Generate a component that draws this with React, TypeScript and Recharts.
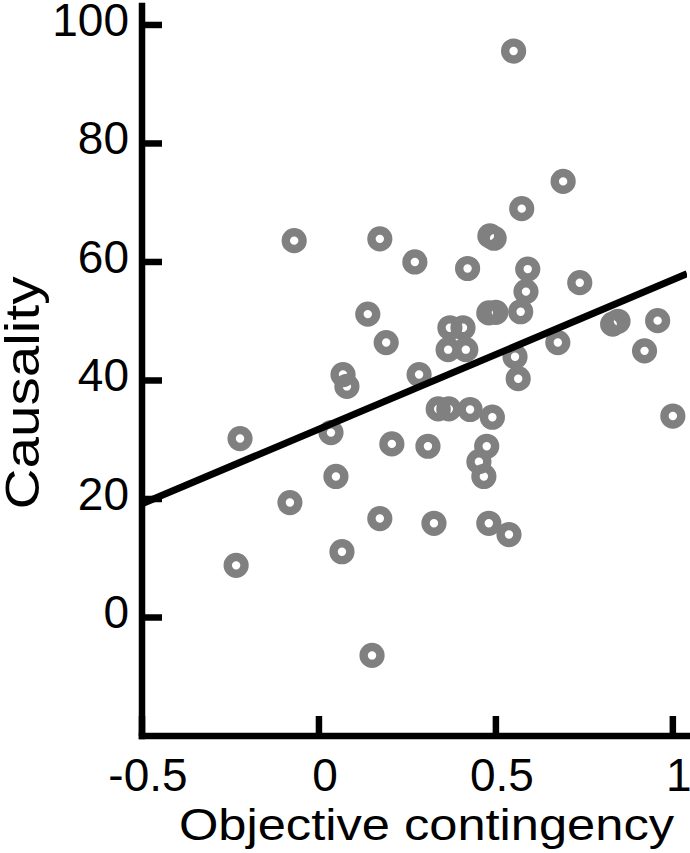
import { ScatterChart, Scatter, XAxis, YAxis } from 'recharts';

const FONT = '"Liberation Sans", Arial, Helvetica, sans-serif';
const GREY = '#808080';

// objective contingency (x) per participant
const contingency = [
  0.55, 0.69, 0.573, -0.07, 0.172, 0.483, 0.495, 0.271, 0.42, 0.59,
  0.585, 0.737, 0.138, 0.48, 0.5, 0.57, 0.83, 0.845, 0.957, 0.92,
  0.37, 0.407, 0.365, 0.415, 0.675, 0.19, 0.554, 0.563, 0.283, 0.068,
  0.079, -0.223, 0.034, 0.206, 0.048, -0.082, 0.172, 0.065, -0.234, 0.15,
  0.337, 0.367, 0.427, 0.49, 1.0, 0.308, 0.474, 0.452, 0.466, 0.325,
  0.48, 0.537,
];

// causality judgement (y), same order
const causality = [
  95.6, 73.6, 69.0, 63.6, 63.9, 64.4, 64.0, 60.0, 58.9, 58.8,
  55.0, 56.5, 51.2, 51.4, 51.5, 51.6, 49.5, 50.0, 50.1, 45.0,
  48.9, 48.9, 45.2, 45.2, 46.4, 46.4, 44.0, 40.3, 41.0, 41.0,
  39.0, 30.2, 31.2, 29.3, 23.8, 19.4, 16.7, 11.1, 8.8, -6.4,
  35.2, 35.2, 35.1, 33.8, 34.0, 28.9, 28.9, 26.3, 23.8, 15.9,
  15.9, 14.0,
];

// regression line end points
const fitX = [-0.5, 1.04];
const fitY = [19.2, 58.0];

const xTicks = [-0.5, 0, 0.5, 1];
const yTicks = [0, 20, 40, 60, 80, 100];

const points = contingency.map((x, i) => ({ x, y: causality[i] }));
const fitLine = fitX.map((x, i) => ({ x, y: fitY[i] }));

const Ring = (p: any) => (
  <circle cx={p.cx} cy={p.cy} r={8.4} fill="none" stroke={GREY} strokeWidth={8.4} />
);

const YTick = ({ x, y, payload }: any) => (
  <g>
    <line x1={x} x2={x + 20} y1={y} y2={y} stroke="#000" strokeWidth={6.5} />
    <text x={x - 13} y={y + 11} textAnchor="end" fontSize={46} fontFamily={FONT} fill="#000">
      {payload.value}
    </text>
  </g>
);

const XTick = ({ x, y, payload }: any) => (
  <g>
    <line x1={x} x2={x} y1={y} y2={y - 20} stroke="#000" strokeWidth={6.5} />
    <text x={x + 6} y={y + 55} textAnchor="middle" fontSize={46} fontFamily={FONT} fill="#000">
      {payload.value}
    </text>
  </g>
);

const XTitle = () => (
  <text x={179} y={840} textLength={495} lengthAdjust="spacingAndGlyphs"
    fontSize={44} fontFamily={FONT} fill="#000">
    Objective contingency
  </text>
);

const YTitle = () => (
  <text x={39} y={393} transform="rotate(-90 39 393)" textAnchor="middle" textLength={233}
    lengthAdjust="spacingAndGlyphs" fontSize={48} fontFamily={FONT} fill="#000">
    Causality
  </text>
);

export default function App() {
  return (
    <div style={{ position: 'absolute', left: 0, top: 0, background: '#fff' }}>
      <ScatterChart width={690} height={853} margin={{ top: 6, right: 3, left: 0, bottom: 0 }}>
        <XAxis type="number" dataKey="x" domain={[-0.5, 1.04]} ticks={xTicks} allowDataOverflow
          height={117} tickSize={0} tickMargin={0} tickLine={false} tick={XTick} interval={0}
          axisLine={{ stroke: '#000', strokeWidth: 6.5, strokeLinecap: 'square' }} label={XTitle} />
        <YAxis type="number" dataKey="y" domain={[-20, 103.2]} ticks={yTicks} allowDataOverflow
          width={142} tickSize={0} tickMargin={0} tickLine={false} tick={YTick} interval={0}
          axisLine={{ stroke: '#000', strokeWidth: 6.5, strokeLinecap: 'square' }} label={YTitle} />
        <Scatter data={points} shape={Ring} isAnimationActive={false} />
        <Scatter data={fitLine} line={{ stroke: '#000', strokeWidth: 7 }} shape={() => <g />}
          isAnimationActive={false} />
      </ScatterChart>
    </div>
  );
}
